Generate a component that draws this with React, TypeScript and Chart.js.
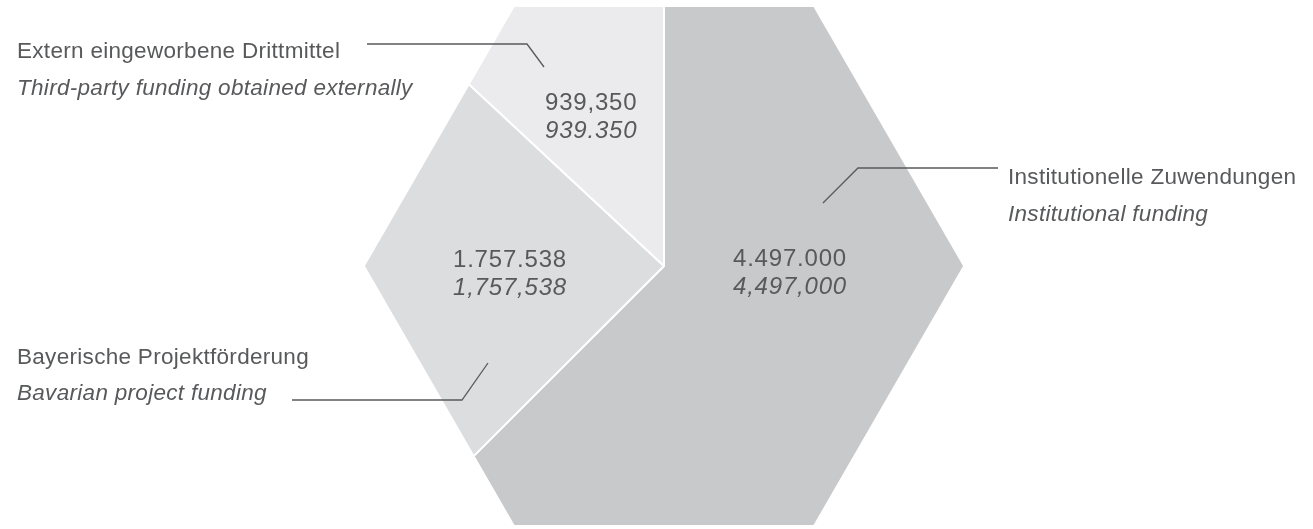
import React, { useEffect, useRef } from "react";
import { Chart, registerables } from "chart.js";

Chart.register(...registerables);

// ---- data ----
const categoriesDe = [
  "Institutionelle Zuwendungen",
  "Bayerische Projektförderung",
  "Extern eingeworbene Drittmittel",
];
const categoriesEn = [
  "Institutional funding",
  "Bavarian project funding",
  "Third-party funding obtained externally",
];
const values = [4497000, 1757538, 939350];
const valueLabelsDe = ["4.497.000", "1.757.538", "939,350"];
const valueLabelsEn = ["4,497,000", "1,757,538", "939.350"];

// ---- styles / layout (not data) ----
const sliceColors = ["#c8c9cb", "#dcdddf", "#ebebed"];
const TEXT_COLOR = "#58595b";
const FONT_FAMILY = '"Liberation Sans", Arial, Helvetica, sans-serif';

const annotationLayout = [
  {
    label: { x: 1008, y1: 184, y2: 221 },
    leader: [
      [998, 168],
      [858, 168],
      [823, 203],
    ],
    value: { x: 733, y1: 266, y2: 294 },
  },
  {
    label: { x: 17, y1: 364, y2: 400 },
    leader: [
      [292, 400],
      [462, 400],
      [488, 363],
    ],
    value: { x: 453, y1: 267, y2: 295 },
  },
  {
    label: { x: 17, y1: 58, y2: 95 },
    leader: [
      [367, 44],
      [527, 44],
      [544, 67],
    ],
    value: { x: 545, y1: 110, y2: 138 },
  },
];

const hexClipPlugin = {
  id: "hexClip",
  beforeDatasetsDraw(chart: any) {
    const meta = chart.getDatasetMeta(0);
    const arc = meta.data[0];
    if (!arc) return;
    const { ctx, chartArea } = chart;
    const cx = arc.x;
    const cy = arc.y;
    const R = chartArea.height / Math.sqrt(3);
    ctx.save();
    ctx.beginPath();
    for (let i = 0; i < 6; i++) {
      const a = (Math.PI / 3) * i;
      const px = cx + R * Math.cos(a);
      const py = cy + R * Math.sin(a);
      if (i === 0) ctx.moveTo(px, py);
      else ctx.lineTo(px, py);
    }
    ctx.closePath();
    ctx.clip();
  },
  afterDatasetsDraw(chart: any) {
    chart.ctx.restore();
  },
};

const annotationPlugin = {
  id: "annotations",
  afterDraw(chart: any) {
    const ctx = chart.ctx as CanvasRenderingContext2D;
    ctx.save();
    ctx.fillStyle = TEXT_COLOR;
    ctx.strokeStyle = TEXT_COLOR;
    ctx.textBaseline = "alphabetic";
    ctx.textAlign = "left";
    annotationLayout.forEach((lay, i) => {
      // category labels
      (ctx as any).letterSpacing = "0.3px";
      ctx.font = `22.5px ${FONT_FAMILY}`;
      ctx.fillText(categoriesDe[i], lay.label.x, lay.label.y1);
      ctx.font = `italic 22.5px ${FONT_FAMILY}`;
      ctx.fillText(categoriesEn[i], lay.label.x, lay.label.y2);
      // values
      (ctx as any).letterSpacing = "0.8px";
      ctx.font = `24px ${FONT_FAMILY}`;
      ctx.fillText(valueLabelsDe[i], lay.value.x, lay.value.y1);
      ctx.font = `italic 24px ${FONT_FAMILY}`;
      ctx.fillText(valueLabelsEn[i], lay.value.x, lay.value.y2);
      // leader line
      ctx.lineWidth = 1.3;
      ctx.beginPath();
      lay.leader.forEach(([x, y], k) => {
        if (k === 0) ctx.moveTo(x, y);
        else ctx.lineTo(x, y);
      });
      ctx.stroke();
    });
    ctx.restore();
  },
};

export default function App() {
  const canvasRef = useRef<HTMLCanvasElement | null>(null);

  useEffect(() => {
    document.body.style.margin = "0";
    const canvas = canvasRef.current;
    if (!canvas) return;
    const chart = new Chart(canvas, {
      type: "pie",
      data: {
        labels: categoriesDe,
        datasets: [
          {
            data: values,
            backgroundColor: sliceColors,
            borderColor: "#ffffff",
            borderWidth: 2,
            radius: "118%",
          } as any,
        ],
      },
      options: {
        responsive: false,
        animation: false,
        devicePixelRatio: 1,
        rotation: 0,
        layout: { padding: { left: 15, right: 0, top: 7, bottom: 4 } },
        plugins: {
          legend: { display: false },
          tooltip: { enabled: false },
        },
      } as any,
      plugins: [hexClipPlugin, annotationPlugin],
    });
    return () => chart.destroy();
  }, []);

  return (
    <div style={{ position: "fixed", left: 0, top: 0, width: 1313, height: 529, background: "#fff" }}>
      <canvas ref={canvasRef} width={1313} height={529} style={{ display: "block" }} />
    </div>
  );
}
